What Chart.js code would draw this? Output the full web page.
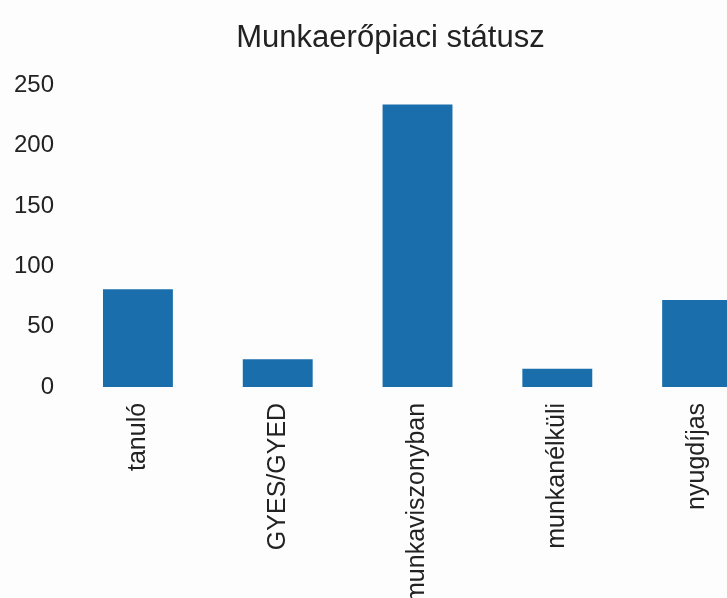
<!DOCTYPE html>
<html>
<head>
<meta charset="utf-8">
<script src="https://cdn.jsdelivr.net/npm/chart.js@4"></script>
<style>
  html, body { margin: 0; padding: 0; background: #fdfdfd; overflow: hidden; }
  #wrap { width: 767px; height: 619px; }
</style>
</head>
<body>
<div id="wrap"><canvas id="statusChart"></canvas></div>
<script>
const categories = ['tanuló', 'GYES/GYED', 'munkaviszonyban', 'munkanélküli', 'nyugdíjas'];
const counts = [81, 23, 234, 15, 72];
const yTicks = [0, 50, 100, 150, 200, 250];

const ctx = document.getElementById('statusChart').getContext('2d');

new Chart(ctx, {
  type: 'bar',
  data: {
    labels: categories,
    datasets: [{
      label: 'Munkaerőpiaci státusz',
      data: counts,
      backgroundColor: '#1a6eab',
      barPercentage: 1,
      categoryPercentage: 0.5
    }]
  },
  options: {
    responsive: true,
    maintainAspectRatio: false,
    animation: false,
    // left padding only pushes the title centre right; y axis is pulled back in afterFit
    layout: { padding: { left: 14, right: 0, top: 0, bottom: 0 } },
    plugins: {
      legend: { display: false },
      tooltip: { enabled: false },
      title: {
        display: true,
        text: 'Munkaerőpiaci státusz',
        color: '#222',
        font: { family: 'Liberation Sans', size: 31, weight: 'normal' },
        padding: { top: 20, bottom: 28 }
      }
    },
    scales: {
      x: {
        grid: { display: false, drawTicks: false },
        border: { display: false },
        ticks: {
          color: '#222',
          font: { family: 'Liberation Sans', size: 25 },
          minRotation: 90,
          maxRotation: 90,
          padding: 16
        }
      },
      y: {
        min: 0,
        max: 250,
        afterBuildTicks: axis => {
          axis.ticks = yTicks.map(v => ({ value: v }));
        },
        afterFit: axis => {
          axis.width -= 14;
        },
        grid: { display: false, drawTicks: false },
        border: { display: false },
        ticks: {
          color: '#222',
          font: { family: 'Liberation Sans', size: 24 },
          padding: 14
        }
      }
    }
  }
});
</script>
</body>
</html>
